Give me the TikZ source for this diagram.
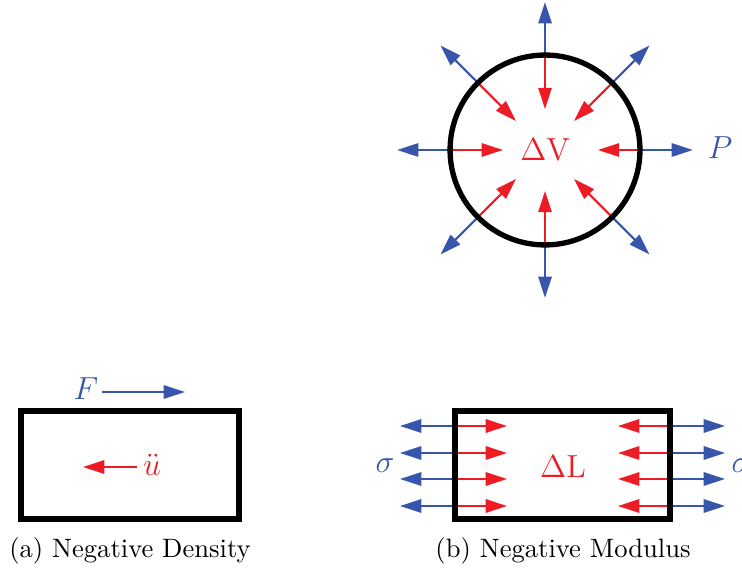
\documentclass[tikz,border=0pt]{standalone}
\usepackage{amsmath, amssymb}
\usetikzlibrary{arrows.meta, calc}

\definecolor{forceblue}{RGB}{55,85,170}
\definecolor{respred}{RGB}{237,28,36}

\begin{document}
\begin{tikzpicture}[x=0.376pt, y=-0.376pt, >={Triangle[length=8pt, width=5pt]},
        blueforce/.style={forceblue, line width=0.8pt, ->},
        redresp/.style={respred, line width=0.8pt, ->},
        wall/.style={line width=2pt}]

            \useasboundingbox (0,0) rectangle (742,572);

            % 1. Sphere under pressure (Negative Modulus, volume)
            \coordinate (C) at (545,150);
            \foreach \a in {0,45,...,315} {
                \draw[blueforce] ($(C)+(\a:35.7pt)$) -- ($(C)+(\a:55.6pt)$);
            }
            \foreach \a/\r in {0/19.9, 45/15.4, 90/15.4, 135/15.4, 180/15.8, 225/15.4, 270/15.4, 315/15.4} {
                \draw[redresp] ($(C)+(\a:35.7pt)$) -- ($(C)+(\a:\r pt)$);
            }
            \draw[wall] (C) circle[radius=35.7pt];

            \node[respred, font=\large] (dV) at (C) {$\Delta$V};
            \node[forceblue, font=\large] (P) at (720,148) {$P$};

            % 2. Block with force and acceleration (Negative Density)
            \node[forceblue, font=\large] (F) at (86,389) {$F$};
            \draw[blueforce] (102,392) -- (185,392);
            \draw[wall] (21,411) rectangle (239,519);
            \node[respred, font=\large] (acc) at (152,465) {$\ddot{u}$};
            \draw[redresp] (137,467) -- (83,467);
            \node (capA) at (130,551) {(a) Negative Density};

            % 3. Bar under tension (Negative Modulus, length)
            \foreach \y in {426,453,479,506} {
                \draw[blueforce] (455,\y) -- (400,\y);
                \draw[redresp] (455,\y) -- (507,\y);
                \draw[redresp] (670,\y) -- (618,\y);
                \draw[blueforce] (670,\y) -- (725,\y);
            }
            \draw[wall] (455,411) rectangle (670,519);
            \node[respred, font=\large] (dL) at (563,467) {$\Delta$L};
            \node[forceblue, font=\large] (sigL) at (385,466) {$\sigma$};
            \node[forceblue, font=\large] (sigR) at (741,466) {$\sigma$};
            \node (capB) at (563,551) {(b) Negative Modulus};

\end{tikzpicture}
\end{document}
